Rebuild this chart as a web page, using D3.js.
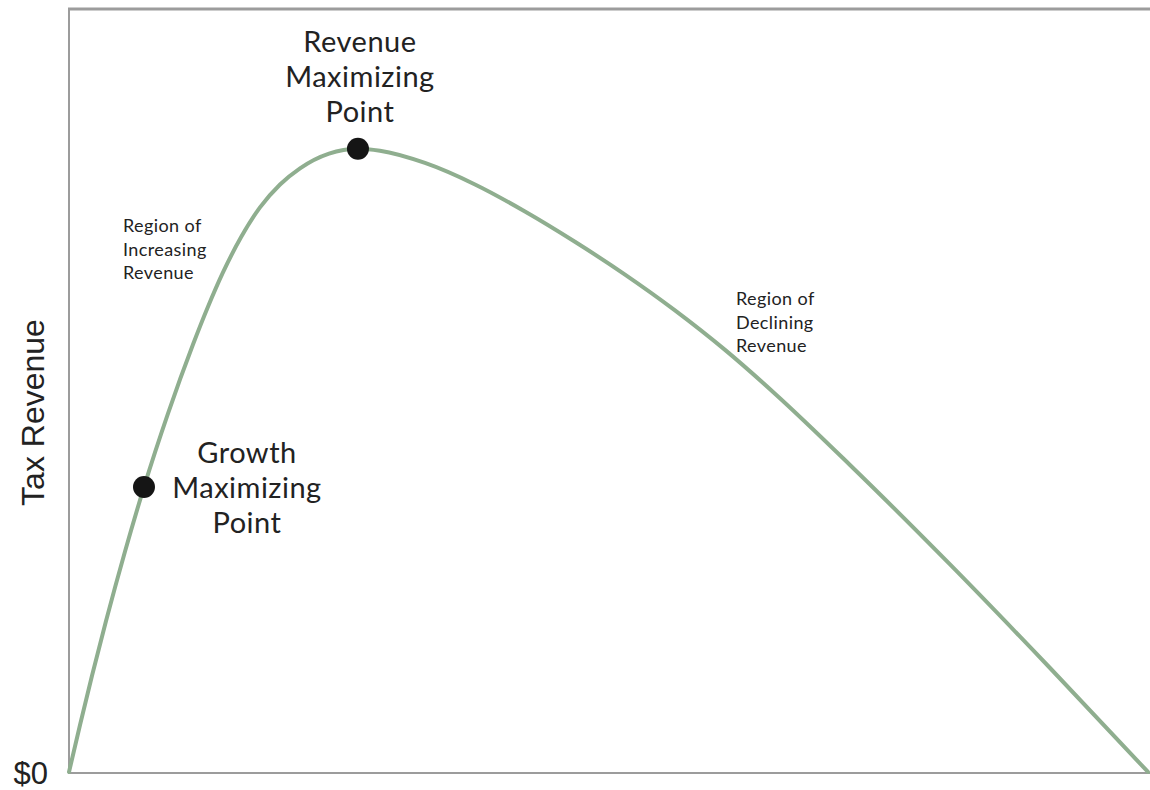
<!DOCTYPE html>
<html>
<head>
<meta charset="utf-8">
<script src="https://cdn.jsdelivr.net/npm/d3@7"></script>
<style>
  html, body { margin: 0; padding: 0; background: #fff; }
  svg { display: block; }
</style>
</head>
<body>
<svg id="chart" width="1150" height="790"></svg>
<script>
// ---- data (tax rate %, revenue index) ----
const taxRate = [0, 1.02, 2.13, 3.43, 5.19, 6.95, 9.18, 11.49, 12.88, 14.27, 15.94, 17.70, 19.56, 21.41, 24.10, 26.78, 28.82, 32.99, 37.63, 42.26, 46.89, 51.53, 56.16, 60.80, 65.43, 72.38, 81.65, 90.92, 100];
const revenue = [0, 6.16, 12.61, 19.78, 28.90, 37.34, 47.00, 56.02, 60.97, 65.47, 70.08, 74.00, 77.00, 79.12, 81.05, 81.68, 81.42, 79.82, 77.00, 73.46, 69.49, 65.19, 60.50, 55.32, 49.58, 40.24, 27.20, 13.63, 0];
const keyPointIndex = [5, 15]; // growth maximizing, revenue maximizing
const keyPointLabels = [["Growth", "Maximizing", "Point"], ["Revenue", "Maximizing", "Point"]];
const regionLabels = [["Region of", "Increasing", "Revenue"], ["Region of", "Declining", "Revenue"]];
const yAxisTitle = "Tax Revenue";
const yTickLabels = ["$0"];
const yTickValues = [0];

// ---- drawing ----
const svg = d3.select("#chart");
const x = d3.scaleLinear().domain([0, 100]).range([69, 1148]);
const y = d3.scaleLinear().domain([0, 100]).range([772, 9]);

const frame = svg.append("g").attr("stroke", "#9c9c9c").attr("fill", "none");
frame.append("line").attr("x1", x(0)).attr("x2", x(0)).attr("y1", y(100)).attr("y2", y(0) + 1).attr("stroke-width", 2);
frame.append("line").attr("x1", x(0) - 1).attr("x2", 1150).attr("y1", y(100)).attr("y2", y(100)).attr("stroke-width", 3);
frame.append("line").attr("x1", x(0) - 1).attr("x2", 1150).attr("y1", y(0) + 1).attr("y2", y(0) + 1).attr("stroke-width", 2);

const pts = taxRate.map((t, i) => [t, revenue[i]]);
const line = d3.line().x(d => x(d[0])).y(d => y(d[1])).curve(d3.curveMonotoneX);
svg.append("path").datum(pts)
  .attr("d", line)
  .attr("fill", "none")
  .attr("stroke", "#8fae8f")
  .attr("stroke-width", 4)
  .attr("stroke-linecap", "round");

// key points
svg.selectAll("circle.key").data(keyPointIndex).enter().append("circle")
  .attr("class", "key")
  .attr("cx", i => x(taxRate[i]))
  .attr("cy", i => y(revenue[i]))
  .attr("r", 11)
  .attr("fill", "#151515");

const bigFont = "Lato, 'Open Sans', sans-serif";
function bigLabel(lines, cx, y0) {
  const t = svg.append("text")
    .attr("font-family", bigFont).attr("font-size", 29).attr("letter-spacing", 0.5)
    .attr("fill", "#222").attr("text-anchor", "middle");
  lines.forEach((s, k) => {
    t.append("tspan").attr("x", cx).attr("y", y0 + k * 35).text(s);
  });
}
const gi = keyPointIndex[0];
bigLabel(keyPointLabels[0], x(taxRate[gi]) + 103, y(revenue[gi]) - 24);
const ri = keyPointIndex[1];
bigLabel(keyPointLabels[1], x(taxRate[ri]) + 2, y(revenue[ri]) - 97);

// region labels
const regionPos = [[123, 232], [736, 305]];
regionLabels.forEach((lines, j) => {
  const t = svg.append("text").attr("font-family", bigFont).attr("font-size", 18)
    .attr("letter-spacing", 0.4).attr("fill", "#222");
  lines.forEach((s, k) => {
    t.append("tspan").attr("x", regionPos[j][0]).attr("y", regionPos[j][1] + k * 23.5).text(s);
  });
});

// y axis title and tick label
svg.append("text")
  .attr("transform", `translate(44, ${(y(0) + y(100)) / 2 + 22}) rotate(-90)`)
  .attr("text-anchor", "middle")
  .attr("font-family", "'Liberation Sans', Arial, sans-serif")
  .attr("font-size", 32)
  .attr("fill", "#222")
  .text(yAxisTitle);

svg.selectAll("text.tick").data(yTickValues).enter().append("text")
  .attr("class", "tick")
  .attr("x", 48)
  .attr("y", v => y(v) + 12)
  .attr("text-anchor", "end")
  .attr("font-family", "'Liberation Sans', Arial, sans-serif")
  .attr("font-size", 31)
  .attr("fill", "#222")
  .text((v, i) => yTickLabels[i]);
</script>
</body>
</html>
